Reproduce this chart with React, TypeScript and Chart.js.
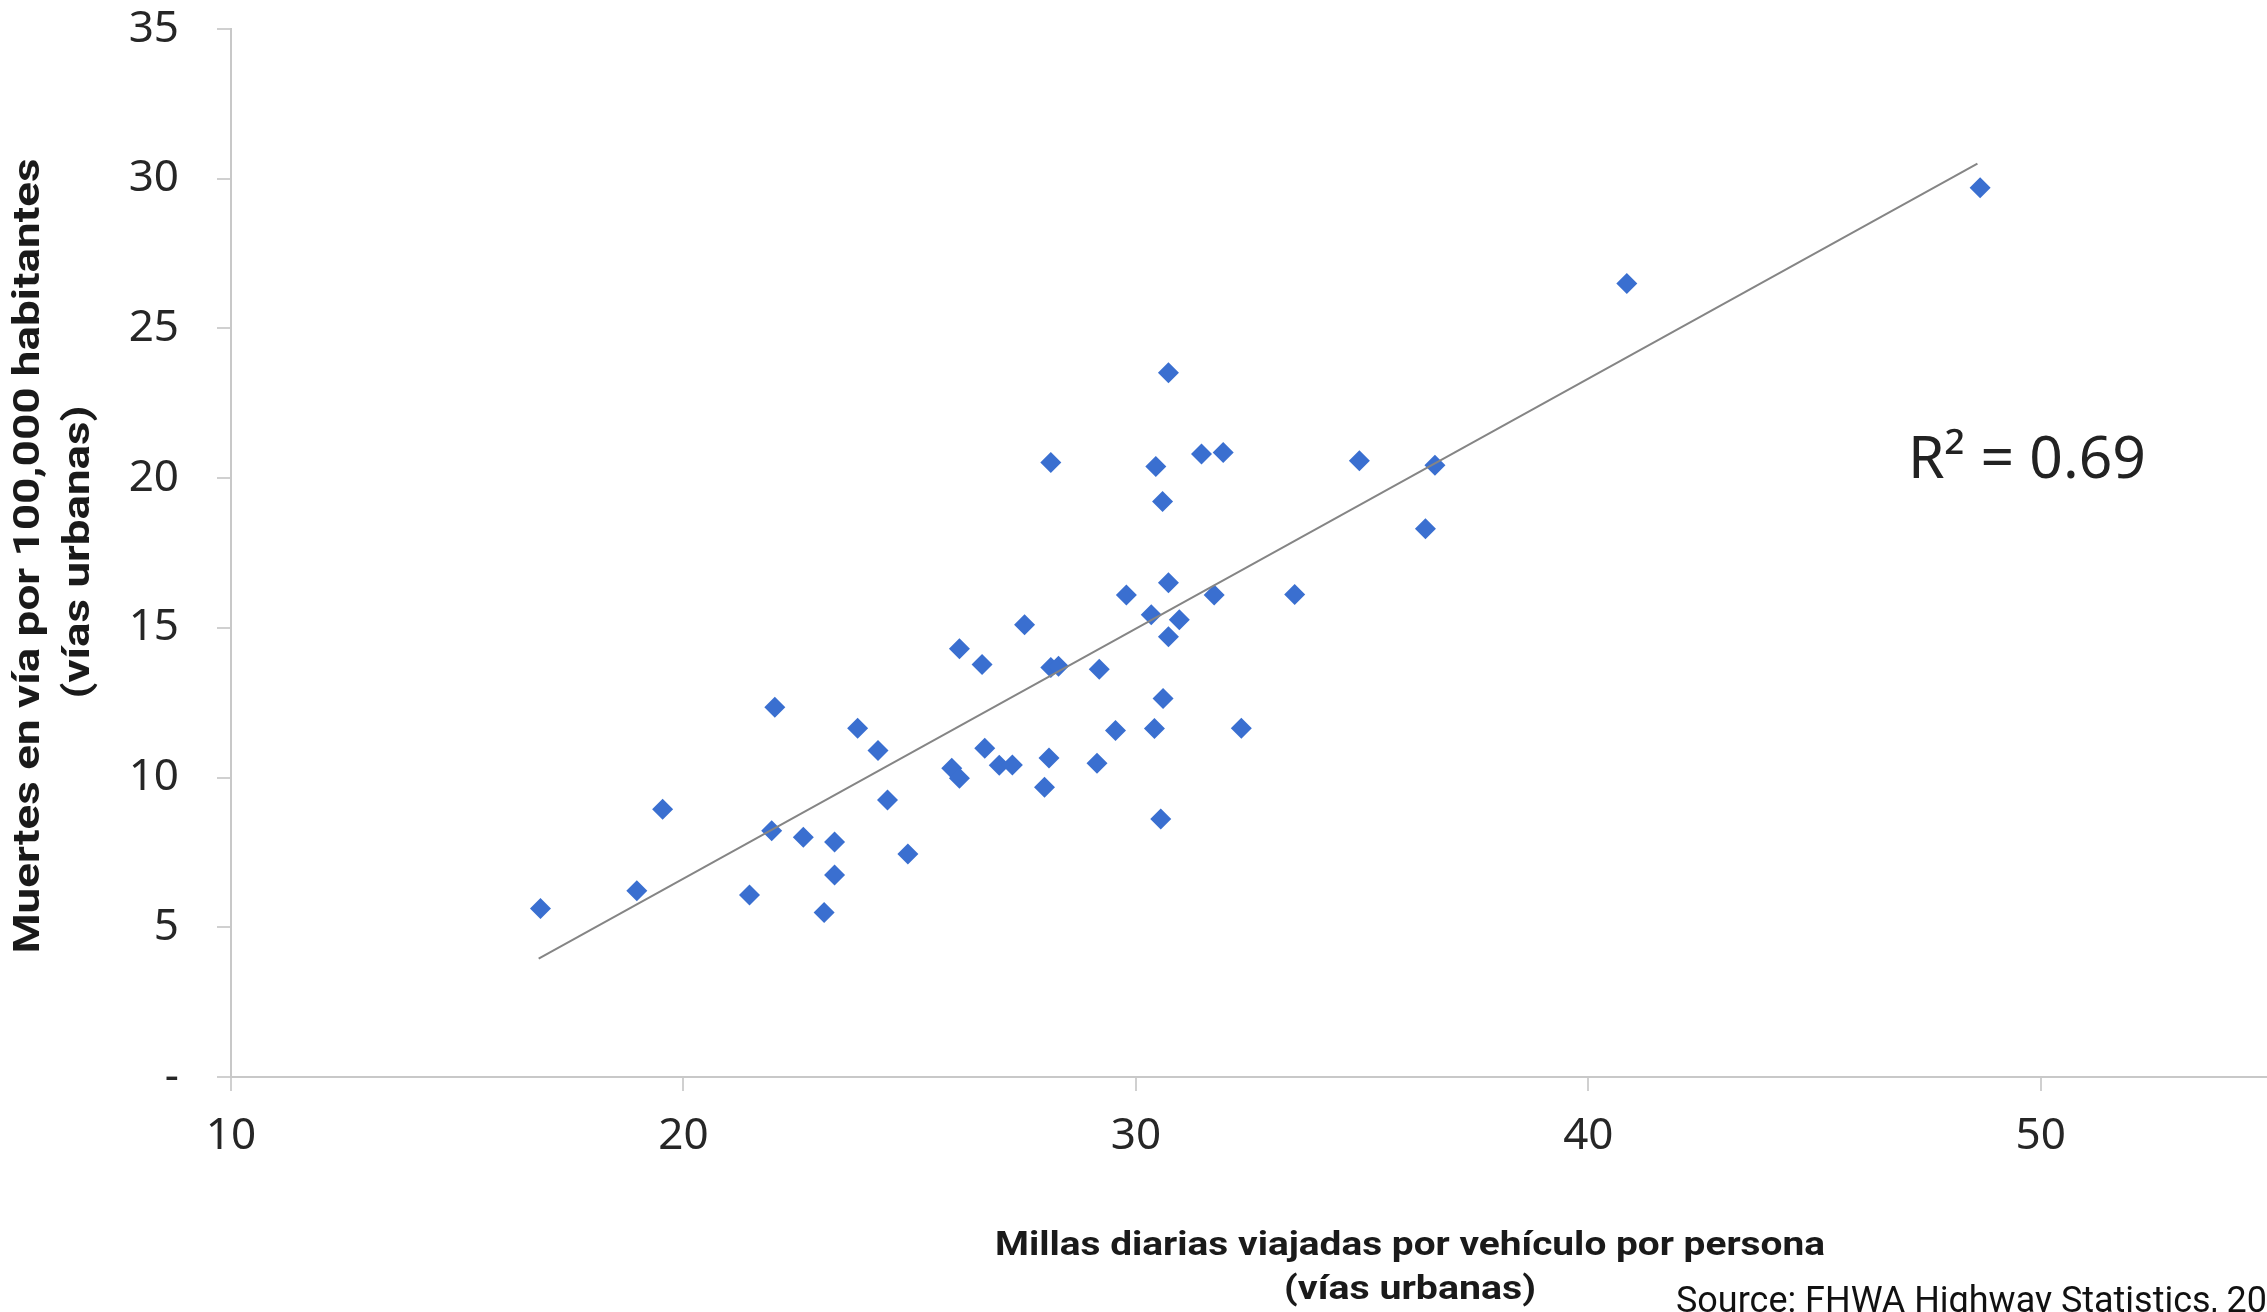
import React, { useEffect, useRef } from 'react';
import { Chart, registerables } from 'chart.js';

Chart.register(...registerables);

// Daily vehicle miles travelled per person (urban roads)
const milesPerPerson = [
  16.84, 18.97, 19.54, 21.46, 22.02, 21.95, 22.65, 23.11, 23.34, 23.34,
  23.85, 24.3, 24.51, 24.96, 26.1, 25.93, 26.1, 26.6, 26.66, 26.98,
  27.27, 27.54, 27.98, 28.08, 28.12, 28.12, 28.29, 29.14, 29.19, 29.55,
  29.79, 30.34, 30.41, 30.44, 30.55, 30.59, 30.6, 30.72, 30.72, 30.72,
  30.96, 31.45, 31.73, 31.93, 32.33, 33.51, 34.94, 36.4, 36.61, 40.85,
  48.66,
];

// Road deaths per 100,000 inhabitants (urban roads)
const deathsPer100k = [
  5.63, 6.22, 8.94, 6.08, 12.35, 8.22, 8.01, 5.49, 7.85, 6.75,
  11.65, 10.9, 9.25, 7.45, 14.3, 10.31, 9.98, 13.78, 10.98, 10.41,
  10.42, 15.1, 9.68, 10.65, 20.52, 13.68, 13.72, 10.48, 13.62, 11.57,
  16.1, 15.44, 11.64, 20.39, 8.62, 19.22, 12.64, 23.52, 16.51, 14.7,
  15.27, 20.81, 16.1, 20.86, 11.65, 16.11, 20.58, 18.31, 20.43, 26.5,
  29.7,
];

// Linear trend line end points
const trendX = [16.8, 48.6];
const trendY = [3.95, 30.5];

const rSquaredLabel = 'R² = 0.69';
const xTitleLines = ['Millas diarias viajadas por vehículo por persona', '(vías urbanas)'];
const yTitleLines = ['Muertes en vía por 100,000 habitantes', '(vías urbanas)'];
const sourceText = 'Source: FHWA Highway Statistics, 2008';
const sourceVisiblePrefix = 'Source: FHWA Highway Statistics, 20';

function drawFitted(
  ctx: CanvasRenderingContext2D,
  text: string,
  x: number,
  y: number,
  targetWidth: number,
  font: string,
  rotation: number,
  align: CanvasTextAlign,
  baseline: CanvasTextBaseline,
  measureText?: string
) {
  ctx.save();
  ctx.font = font;
  const w = ctx.measureText(measureText ?? text).width || 1;
  const sx = targetWidth / w;
  ctx.translate(x, y);
  ctx.rotate(rotation);
  ctx.scale(sx, 1);
  ctx.textAlign = align;
  ctx.textBaseline = baseline;
  ctx.fillText(text, 0, 0);
  ctx.restore();
}

const textPlugin = {
  id: 'extraTexts',
  afterDraw(chart: any) {
    const ctx: CanvasRenderingContext2D = chart.ctx;
    ctx.save();
    ctx.fillStyle = '#1a1a1a';
    // Y axis title (two lines, rotated)
    drawFitted(ctx, yTitleLines[0], 30, 556, 795, 'bold 36px Roboto', -Math.PI / 2, 'center', 'middle');
    drawFitted(ctx, yTitleLines[1], 80, 552, 293, 'bold 36px Roboto', -Math.PI / 2, 'center', 'middle');
    // X axis title (two lines)
    drawFitted(ctx, xTitleLines[0], 1410, 1246, 830, 'bold 34px Roboto', 0, 'center', 'middle');
    drawFitted(ctx, xTitleLines[1], 1410, 1290, 252, 'bold 34px Roboto', 0, 'center', 'middle');
    // R squared
    ctx.fillStyle = '#222222';
    drawFitted(ctx, rSquaredLabel, 1908, 478, 238, '58px "Noto Sans"', 0, 'left', 'alphabetic');
    // Source (cut off by the page edge)
    ctx.fillStyle = '#111111';
    drawFitted(ctx, sourceText, 1676, 1312, 591, '36px Roboto', 0, 'left', 'alphabetic', sourceVisiblePrefix);
    ctx.restore();
  },
};

export default function App() {
  const canvasRef = useRef<HTMLCanvasElement | null>(null);

  useEffect(() => {
    document.body.style.margin = '0';
    const canvas = canvasRef.current;
    if (!canvas) return;

    const points = milesPerPerson.map((x, i) => ({ x, y: deathsPer100k[i] }));
    const trend = trendX.map((x, i) => ({ x, y: trendY[i] }));

    const tickFont = { family: '"Noto Sans", sans-serif', size: 44 };

    const chart = new Chart(canvas, {
      type: 'scatter',
      data: {
        datasets: [
          {
            label: 'Tendencia',
            data: trend,
            showLine: true,
            borderColor: '#858585',
            borderWidth: 2,
            pointRadius: 0,
            fill: false,
          },
          {
            label: 'Estados',
            data: points,
            pointStyle: 'rectRot',
            pointRadius: 10.5,
            pointHoverRadius: 10.5,
            backgroundColor: '#3a6fd0',
            borderColor: '#3a6fd0',
            borderWidth: 0,
          },
        ],
      },
      options: {
        animation: false,
        responsive: true,
        maintainAspectRatio: false,
        layout: { autoPadding: false, padding: { top: 29, right: 0, left: 0, bottom: 0 } },
        plugins: {
          legend: { display: false },
          tooltip: { enabled: false },
          title: { display: false },
        },
        scales: {
          x: {
            type: 'linear',
            position: 'bottom',
            min: 10,
            max: 55,
            ticks: {
              stepSize: 10,
              includeBounds: false,
              font: tickFont,
              color: '#262626',
              padding: 19,
              maxRotation: 0,
            },
            grid: {
              drawOnChartArea: false,
              drawTicks: true,
              tickLength: 14,
              color: '#d0d0d0',
              lineWidth: 2,
            },
            border: { color: '#c8c8c8', width: 2 },
            afterFit: (scale: any) => {
              scale.height = 235;
              scale.paddingLeft = 0;
              scale.paddingRight = 0;
            },
          },
          y: {
            type: 'linear',
            min: 0,
            max: 35,
            ticks: {
              stepSize: 5,
              font: tickFont,
              color: '#262626',
              padding: 38,
              callback: (v: any) => (Number(v) === 0 ? '-' : String(v)),
            },
            grid: {
              drawOnChartArea: false,
              drawTicks: true,
              tickLength: 14,
              color: '#d0d0d0',
              lineWidth: 2,
            },
            border: { color: '#c8c8c8', width: 2 },
            afterFit: (scale: any) => {
              scale.width = 231;
              scale.paddingTop = 0;
              scale.paddingBottom = 0;
            },
          },
        },
      },
      plugins: [textPlugin],
    } as any);

    let alive = true;
    if ((document as any).fonts && (document as any).fonts.ready) {
      (document as any).fonts.ready.then(() => {
        if (alive) chart.update();
      });
    }

    return () => {
      alive = false;
      chart.destroy();
    };
  }, []);

  return (
    <div
      style={{
        position: 'fixed',
        left: 0,
        top: 0,
        width: '2267px',
        height: '1312px',
        background: '#ffffff',
      }}
    >
      <canvas ref={canvasRef} />
    </div>
  );
}
